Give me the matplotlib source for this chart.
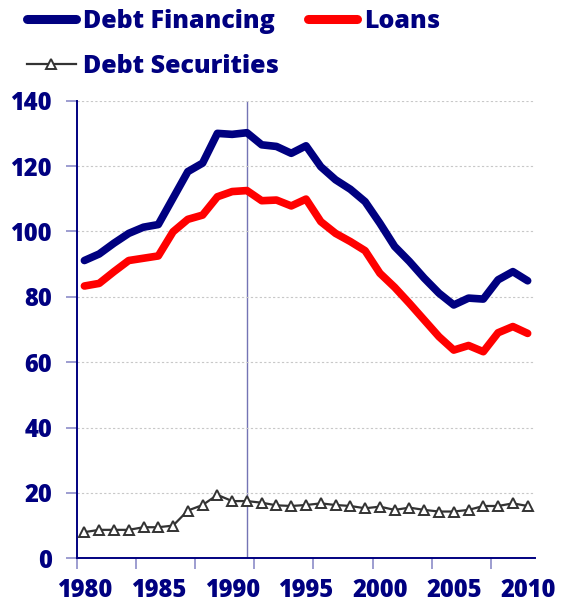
import matplotlib
matplotlib.use("Agg")
import matplotlib.pyplot as plt
import numpy as np

plt.rcParams["font.family"] = ["Open Sans", "DejaVu Sans"]

years = np.arange(1980, 2011)

debt_financing = [91.1, 93.1, 96.4, 99.4, 101.3, 102.1, 110.2, 118.3, 120.9, 130.0,
                  129.7, 130.2, 126.5, 126.0, 123.9, 126.2, 119.8, 115.8, 112.9, 109.1,
                  102.5, 95.4, 90.8, 85.7, 81.1, 77.5, 79.6, 79.3, 85.2, 87.7, 84.9]
loans = [83.3, 84.1, 87.7, 91.1, 91.8, 92.5, 99.9, 103.7, 105.0, 110.6,
         112.2, 112.5, 109.4, 109.6, 107.8, 109.9, 103.0, 99.4, 96.9, 94.1,
         87.2, 82.9, 78.0, 72.9, 67.8, 63.7, 65.1, 63.2, 69.0, 70.9, 68.8]
debt_securities = [8.0, 8.7, 8.7, 8.7, 9.5, 9.5, 10.0, 14.6, 16.3, 19.4,
                   17.5, 17.5, 17.0, 16.2, 16.0, 16.3, 16.8, 16.3, 16.0, 15.3,
                   15.8, 14.8, 15.5, 14.8, 14.3, 14.3, 14.8, 16.0, 16.0, 16.8, 16.0]

year_labels = ["1980", "1985", "1990", "1995", "2000", "2005", "2010"]
marker_year = 1991

navy = "#000080"
lavender = "#8c8cc8"

fig = plt.figure(figsize=(5.61, 6.04), dpi=100)
ax = fig.add_axes([0.1373, 0.0757, 0.8164, 0.7576])

ax.grid(axis="y", color="#c8c8c8", linestyle=(0, (2, 2)), linewidth=0.8, zorder=0)
ax.axvline(marker_year, color="#7474b4", linewidth=1.0, zorder=1)

l1, = ax.plot(years, debt_financing, color=navy, linewidth=5.5,
              solid_capstyle="round", solid_joinstyle="round", zorder=3,
              label="Debt Financing")
l2, = ax.plot(years, loans, color="#ff0000", linewidth=5.5,
              solid_capstyle="round", solid_joinstyle="round", zorder=3,
              label="Loans")
l3, = ax.plot(years, debt_securities, color="#333333", linewidth=1.6,
              marker="^", markersize=6.5, markerfacecolor="white",
              markeredgecolor="#333333", markeredgewidth=1.4, zorder=4,
              label="Debt Securities")

ax.set_xlim(1979.5, 2010.5)
ax.set_ylim(0, 140)
ax.set_yticks(np.arange(0, 141, 20))

ax.set_xticks([int(y) for y in year_labels])
ax.set_xticklabels(year_labels)
ax.set_xticks(np.arange(1979.5, 2010, 4), minor=True)
ax.tick_params(axis="x", which="major", length=0, pad=14)
ax.tick_params(axis="x", which="minor", length=8, width=1.2, color=lavender, direction="out")
ax.tick_params(axis="y", length=8, width=1.2, color=lavender, direction="out", pad=10)

for lab in ax.get_xticklabels() + ax.get_yticklabels():
    lab.set_fontsize(17)
    lab.set_fontweight(800)
    lab.set_color(navy)

for side in ["top", "right"]:
    ax.spines[side].set_visible(False)
for side in ["left", "bottom"]:
    ax.spines[side].set_color(navy)
    ax.spines[side].set_linewidth(1.4)

leg = fig.legend(handles=[l1, l3, l2], ncol=2, loc="upper left",
                 bbox_to_anchor=(27 / 561, 0.985), frameon=False,
                 prop={"family": ["Open Sans", "DejaVu Sans"], "weight": 800, "size": 18},
                 handlelength=1.95, handletextpad=0.3, columnspacing=1.15,
                 labelspacing=0.8, borderpad=0, borderaxespad=0)
for t in leg.get_texts():
    t.set_color(navy)
for h in leg.legend_handles[:1] + leg.legend_handles[2:]:
    h.set_linewidth(6.5)
    h.set_solid_capstyle("round")

fig.savefig("out.png", dpi=100)
